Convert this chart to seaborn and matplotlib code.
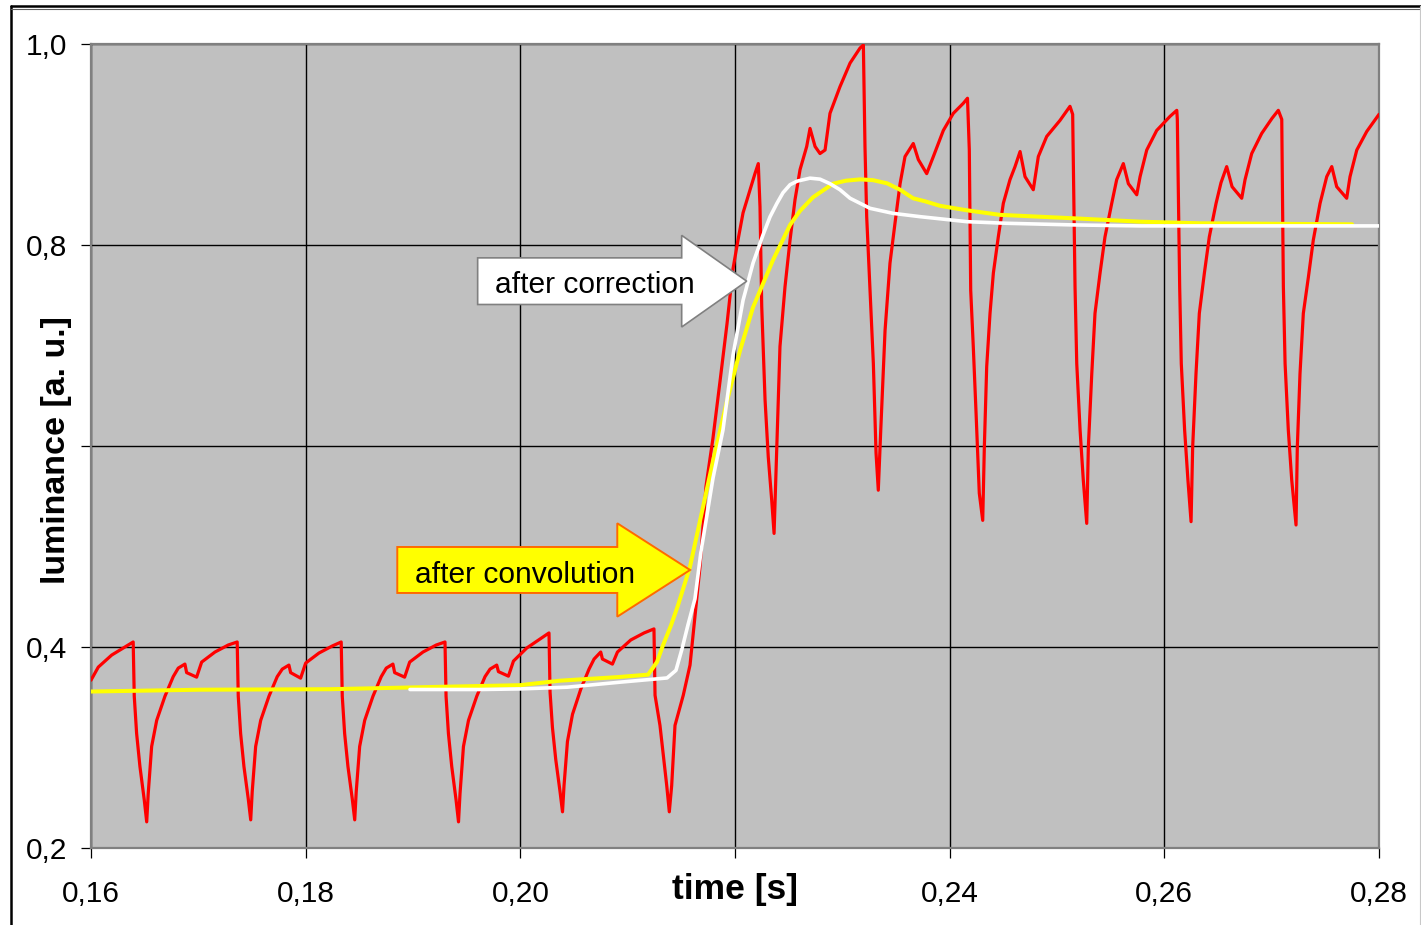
import matplotlib
matplotlib.use("Agg")
import matplotlib.pyplot as plt
from matplotlib.patches import Polygon
from matplotlib.lines import Line2D
import seaborn as sns

# Measured luminance of the backlit display (red trace), time in s
red_t = [
    0.16000, 0.16068, 0.16193, 0.16317, 0.16393,
    0.16403, 0.16425, 0.16456, 0.16496, 0.16519, 0.16533, 0.16565, 0.16612, 0.16689,
    0.16766, 0.16813, 0.16875, 0.16891, 0.16984, 0.17031, 0.17155, 0.17279, 0.17362,
    0.17372, 0.17394, 0.17425, 0.17465, 0.17488, 0.17502, 0.17534, 0.17581, 0.17658,
    0.17735, 0.17782, 0.17844, 0.17860, 0.17953, 0.18000, 0.18124, 0.18248, 0.18331,
    0.18341, 0.18363, 0.18394, 0.18434, 0.18457, 0.18471, 0.18503, 0.18550, 0.18627,
    0.18704, 0.18751, 0.18813, 0.18829, 0.18922, 0.18969, 0.19093, 0.19217, 0.19298,
    0.19308, 0.19330, 0.19361, 0.19401, 0.19424, 0.19438, 0.19470, 0.19517, 0.19594,
    0.19671, 0.19718, 0.19780, 0.19796, 0.19889, 0.19936, 0.20060, 0.20184, 0.20267,
    0.20277, 0.20299, 0.20330, 0.20370, 0.20393, 0.20407, 0.20439, 0.20486, 0.20563,
    0.20640, 0.20687, 0.20749, 0.20765, 0.20858, 0.20905, 0.21029, 0.21153, 0.21245,
    0.21255, 0.21301, 0.21364, 0.21388, 0.21410, 0.21441, 0.21518, 0.21581, 0.21612,
    0.21643, 0.21674, 0.21730, 0.21795, 0.21860, 0.21926, 0.21981, 0.22028, 0.22075,
    0.22140, 0.22186, 0.22217,
    0.22233, 0.22249, 0.22280, 0.22310, 0.22342, 0.22364, 0.22389, 0.22419, 0.22466,
    0.22513, 0.22559, 0.22606, 0.22668, 0.22699, 0.22746, 0.22792, 0.22839, 0.22885,
    0.22978, 0.23072, 0.23165, 0.23196,
    0.23211, 0.23227, 0.23258, 0.23289, 0.23314, 0.23335, 0.23358, 0.23398, 0.23444,
    0.23491, 0.23538, 0.23584, 0.23661, 0.23708, 0.23786, 0.23848, 0.23941, 0.24034,
    0.24127, 0.24166,
    0.24183, 0.24196, 0.24220, 0.24246, 0.24276, 0.24308, 0.24323, 0.24345, 0.24376,
    0.24407, 0.24453, 0.24500, 0.24562, 0.24609, 0.24656, 0.24702, 0.24779, 0.24826,
    0.24904, 0.25028, 0.25121,
    0.25146, 0.25168, 0.25184, 0.25215, 0.25245, 0.25277, 0.25292, 0.25324, 0.25354,
    0.25401, 0.25447, 0.25510, 0.25556, 0.25618, 0.25665, 0.25743, 0.25774, 0.25836,
    0.25929, 0.26053, 0.26116,
    0.26121, 0.26143, 0.26158, 0.26189, 0.26220, 0.26249, 0.26264, 0.26295, 0.26326,
    0.26373, 0.26419, 0.26482, 0.26528, 0.26581, 0.26631, 0.26721, 0.26752, 0.26814,
    0.26907, 0.27003, 0.27062,
    0.27094, 0.27109, 0.27125, 0.27155, 0.27187, 0.27227, 0.27239, 0.27264, 0.27295,
    0.27342, 0.27388, 0.27451, 0.27513, 0.27560, 0.27606, 0.27699, 0.27730, 0.27793,
    0.27886, 0.27984, 0.28000,
]
red_y = [
    0.367, 0.380, 0.392, 0.400, 0.405,
    0.351, 0.314, 0.281, 0.248, 0.226, 0.254, 0.301, 0.327, 0.351,
    0.3705, 0.379, 0.383, 0.3745, 0.370, 0.385, 0.395, 0.402, 0.405,
    0.351, 0.314, 0.281, 0.249, 0.228, 0.256, 0.301, 0.327, 0.351,
    0.3705, 0.378, 0.382, 0.3745, 0.369, 0.384, 0.394, 0.401, 0.405,
    0.351, 0.314, 0.281, 0.249, 0.228, 0.256, 0.301, 0.327, 0.351,
    0.3705, 0.379, 0.383, 0.3745, 0.370, 0.385, 0.395, 0.402, 0.405,
    0.351, 0.314, 0.281, 0.248, 0.226, 0.254, 0.301, 0.327, 0.351,
    0.3705, 0.378, 0.382, 0.3755, 0.371, 0.386, 0.399, 0.408, 0.414,
    0.355, 0.320, 0.288, 0.256, 0.236, 0.262, 0.306, 0.333, 0.358,
    0.378, 0.388, 0.395, 0.388, 0.383, 0.395, 0.407, 0.414, 0.418,
    0.352, 0.322, 0.262, 0.236, 0.262, 0.322, 0.352, 0.382, 0.415,
    0.448, 0.480, 0.560, 0.608, 0.664, 0.722, 0.776, 0.805, 0.832,
    0.855, 0.871, 0.881,
    0.838, 0.739, 0.646, 0.589, 0.546, 0.513, 0.599, 0.699, 0.7585,
    0.805, 0.845, 0.875, 0.898, 0.916, 0.898, 0.891, 0.8945, 0.931,
    0.9575, 0.981, 0.996, 0.999,
    0.898, 0.828, 0.755, 0.682, 0.593, 0.556, 0.616, 0.715, 0.782,
    0.822, 0.861, 0.888, 0.901, 0.885, 0.871, 0.888, 0.914, 0.931,
    0.941, 0.946,
    0.8945, 0.755, 0.699, 0.6325, 0.553, 0.526, 0.599, 0.679, 0.732,
    0.772, 0.808, 0.8415, 0.865, 0.878, 0.893, 0.868, 0.855, 0.888,
    0.908, 0.924, 0.938,
    0.930, 0.7585, 0.682, 0.616, 0.566, 0.523, 0.599, 0.672, 0.732,
    0.772, 0.808, 0.8415, 0.865, 0.881, 0.861, 0.850, 0.868, 0.8945,
    0.914, 0.928, 0.934,
    0.925, 0.758, 0.682, 0.616, 0.566, 0.5247, 0.599, 0.672, 0.732,
    0.772, 0.808, 0.8415, 0.862, 0.878, 0.858, 0.8465, 0.865, 0.891,
    0.911, 0.926, 0.934,
    0.925, 0.7585, 0.682, 0.616, 0.566, 0.5214, 0.599, 0.672, 0.732,
    0.768, 0.805, 0.8415, 0.868, 0.878, 0.858, 0.8465, 0.868, 0.8945,
    0.913, 0.9277, 0.930,
]

# Signal after convolution (yellow)
conv_t = [0.16000, 0.17016, 0.18227, 0.19308, 0.19997, 0.20370, 0.20901, 0.21190,
          0.21273, 0.21329, 0.21404, 0.21469, 0.21581, 0.21683, 0.21795, 0.21926,
          0.22047, 0.22168, 0.22354, 0.22513, 0.22606, 0.22727, 0.22913, 0.23034,
          0.23165, 0.23286, 0.23416, 0.23538, 0.23659, 0.23770, 0.23910, 0.24162,
          0.24469, 0.25149, 0.25774, 0.26333, 0.27749]
conv_y = [0.3557, 0.3575, 0.3580, 0.3605, 0.3620, 0.3665, 0.3700, 0.3725,
          0.3850, 0.4017, 0.4216, 0.4415, 0.4800, 0.5300, 0.5850, 0.6450,
          0.6950, 0.7380, 0.7850, 0.8200, 0.8340, 0.8475, 0.8610, 0.8640,
          0.8653, 0.8645, 0.8614, 0.8550, 0.8465, 0.8435, 0.8390, 0.8345,
          0.8300, 0.8266, 0.8232, 0.8216, 0.8206]

# Signal after correction (white)
corr_t = [0.18972, 0.19624, 0.19997, 0.20435, 0.20929, 0.21367, 0.21450, 0.21506,
          0.21562, 0.21627, 0.21683, 0.21795, 0.21888, 0.21981, 0.22075, 0.22168,
          0.22261, 0.22326, 0.22391, 0.22447, 0.22513, 0.22578, 0.22699, 0.22792,
          0.22885, 0.22978, 0.23072, 0.23258, 0.23472, 0.23724, 0.24162, 0.24534,
          0.25149, 0.25774, 0.28000]
corr_y = [0.3577, 0.3577, 0.3583, 0.3600, 0.3650, 0.3692, 0.3768, 0.3980,
          0.4220, 0.4480, 0.4950, 0.5680, 0.6160, 0.6900, 0.7450, 0.7820,
          0.8100, 0.8280, 0.8415, 0.8520, 0.8600, 0.8635, 0.8665, 0.8655,
          0.8610, 0.8550, 0.8465, 0.8365, 0.8315, 0.8282, 0.8232, 0.8216,
          0.8200, 0.8190, 0.8190]

x_ticks = [0.16, 0.18, 0.20, 0.22, 0.24, 0.26, 0.28]
x_tick_labels = ["0,16", "0,18", "0,20", "", "0,24", "0,26", "0,28"]
y_ticks = [0.2, 0.4, 0.6, 0.8, 1.0]
y_tick_labels = ["0,2", "0,4", "", "0,8", "1,0"]

sns.set_theme(style="white")
plt.rcParams["font.family"] = ["Liberation Sans", "DejaVu Sans"]

W, H = 1421, 925
fig = plt.figure(figsize=(W / 100, H / 100), dpi=100, facecolor="white")
ax = fig.add_axes([91 / W, 77 / H, 1288 / W, 804 / H])
ax.set_facecolor("#C0C0C0")

sns.lineplot(x=red_t, y=red_y, color="#FF0000", lw=2.3, sort=False,
             estimator=None, ax=ax, zorder=3)
sns.lineplot(x=conv_t, y=conv_y, color="#FFFF00", lw=2.9, sort=False,
             estimator=None, ax=ax, zorder=4)
sns.lineplot(x=corr_t, y=corr_y, color="#FFFFFF", lw=2.6, sort=False,
             estimator=None, ax=ax, zorder=5)

ax.set_xlim(0.16, 0.28)
ax.set_ylim(0.2, 1.0)
ax.set_xticks(x_ticks)
ax.set_xticklabels(x_tick_labels)
ax.set_yticks(y_ticks)
ax.set_yticklabels(y_tick_labels)
ax.grid(True, color="black", lw=1.0)
ax.set_axisbelow(True)

for s in ax.spines.values():
    s.set_color("#808080")
    s.set_linewidth(1.6)

ax.tick_params(bottom=True, left=True, direction="out", length=7, width=0.9,
               color="black", labelsize=21.5, labelcolor="black")
ax.tick_params(axis="x", pad=16)
ax.tick_params(axis="y", pad=10)

ax.set_xlabel("time [s]", fontsize=25.5, fontweight="bold", color="black")
ax.xaxis.set_label_coords(0.5, -0.051)
ax.xaxis.label.set_va("center")
ax.set_ylabel("luminance [a. u.]", fontsize=24.5, fontweight="bold", color="black")
ax.yaxis.set_label_coords(-0.0266, 0.495)
ax.yaxis.label.set_va("center")
ax.yaxis.label.set_ha("center")


def block_arrow(x0, x_head, x_tip, yc, body_half, head_half):
    return [(x0, yc + body_half), (x_head, yc + body_half), (x_head, yc + head_half),
            (x_tip, yc), (x_head, yc - head_half), (x_head, yc - body_half),
            (x0, yc - body_half)]


ax.add_patch(Polygon(block_arrow(0.3002, 0.4586, 0.5091, 0.705, 0.029, 0.057),
                     closed=True, transform=ax.transAxes, facecolor="white",
                     edgecolor="#808080", lw=1.2, zorder=6))
ax.text(0.3137, 0.690, "after correction", transform=ax.transAxes, fontsize=21.6,
        ha="left", va="baseline", color="black", zorder=7)

ax.add_patch(Polygon(block_arrow(0.2378, 0.4086, 0.4651, 0.3458, 0.0286, 0.0581),
                     closed=True, transform=ax.transAxes, facecolor="#FFFF00",
                     edgecolor="#FF6A00", lw=1.4, zorder=6))
ax.text(0.2516, 0.330, "after convolution", transform=ax.transAxes, fontsize=21.6,
        ha="left", va="baseline", color="black", zorder=7)

# outer frame of the figure
fx = 11 / W
fy = 1 - 6 / H
fig.add_artist(Line2D([fx, fx], [0, fy], color="black", lw=1.8))
fig.add_artist(Line2D([fx, 1], [fy, fy], color="black", lw=1.8))
fig.add_artist(Line2D([fx, 1], [1 - 9 / H, 1 - 9 / H], color="#606060", lw=0.8))
fig.add_artist(Line2D([1419.5 / W, 1419.5 / W], [0, fy], color="#C8C8C8", lw=0.8))

fig.savefig("out.png", dpi=100, facecolor="white")
